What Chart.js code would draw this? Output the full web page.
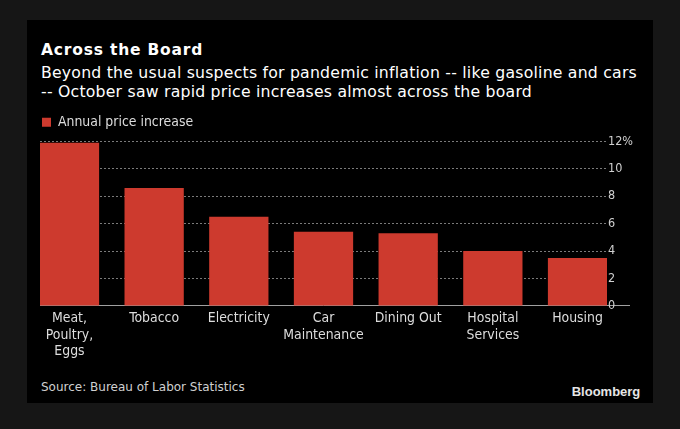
<!DOCTYPE html>
<html><head><meta charset="utf-8">
<script src="https://cdn.jsdelivr.net/npm/chart.js@4.4.0/dist/chart.umd.min.js"></script>
<style>
html,body{margin:0;padding:0;background:#161616;width:680px;height:429px;overflow:hidden;}
#panel{position:absolute;left:27px;top:20px;width:626px;height:383px;background:#000;}
.t{position:absolute;white-space:nowrap;margin:0;}
#title{left:14px;top:21px;font:bold 15.5px 'DejaVu Sans';letter-spacing:0.8px;line-height:normal;color:#fff;}
#sub{left:14px;top:42.5px;font:15.7px 'DejaVu Sans';letter-spacing:0.22px;line-height:19.5px;color:#fff;}
#source{left:14px;top:359.6px;font:12px 'DejaVu Sans';line-height:normal;color:#d0d0d0;}
#logo{left:544.7px;top:364px;font:bold 13px 'Liberation Sans',Arial,sans-serif;line-height:normal;color:#e6e6e6;}
#wrap{position:absolute;left:0;top:85px;width:626px;height:270px;}
</style></head>
<body>
<div id="panel">
  <div class="t" id="title">Across the Board</div>
  <div class="t" id="sub">Beyond the usual suspects for pandemic inflation -- like gasoline and cars<br>-- October saw rapid price increases almost across the board</div>
  <div id="wrap"><canvas id="c"></canvas></div>
  <div class="t" id="source">Source: Bureau of Labor Statistics</div>
  <div class="t" id="logo">Bloomberg</div>
</div>
<script>
const categories = [['Meat,','Poultry,','Eggs'], 'Tobacco', 'Electricity', ['Car','Maintenance'], 'Dining Out', ['Hospital','Services'], 'Housing'];
const increases = [11.9, 8.6, 6.5, 5.4, 5.3, 4.0, 3.5];
const seriesName = 'Annual price increase';
const yTickLabels = {0:'0', 2:'2', 4:'4', 6:'6', 8:'8', 10:'10', 12:'12%'};

const FONT = "'DejaVu Sans Condensed','DejaVu Sans'";
Chart.defaults.font.family = FONT;

const legendSpacer = {
  id: 'legendSpacer',
  beforeInit(chart) {
    const origFit = chart.legend.fit;
    chart.legend.fit = function() { origFit.call(this); this.height += 2.2; };
  }
};

new Chart(document.getElementById('c'), {
  type: 'bar',
  data: {
    datasets: [{
      label: seriesName,
      data: increases.map((v, i) => ({x: i, y: v})),
      backgroundColor: '#cd3a2e',
      borderWidth: 0,
      barPercentage: 0.70,
      categoryPercentage: 1.0
    }]
  },
  options: {
    responsive: true,
    maintainAspectRatio: false,
    animation: false,
    layout: {padding: {left: 13, right: 0, top: 8.2, bottom: 11}},
    plugins: {
      legend: {
        display: true, position: 'top', align: 'start',
        labels: {color: '#dddddd', boxWidth: 9, boxHeight: 9, padding: 2, font: {size: 13.9}}
      },
      tooltip: {enabled: false}
    },
    scales: {
      x: {
        type: 'linear',
        offset: false,
        min: -0.348, max: categories.length - 1 + 0.348,
        grid: {display: false, drawTicks: false, offset: false},
        border: {display: false},
        ticks: {
          stepSize: 1, includeBounds: false, autoSkip: false, maxRotation: 0,
          color: '#dddddd', padding: 4, font: {size: 13.9, lineHeight: 1.2},
          callback: (v) => Number.isInteger(v) && categories[v] !== undefined ? categories[v] : ''
        }
      },
      y: {
        position: 'right',
        min: 0, max: 12,
        afterFit: (scale) => { scale.width = 46; },
        grid: {
          color: (c) => c.tick && c.tick.value === 0 ? '#a0a0a0' : '#7a7a7a',
          lineWidth: 1,
          drawTicks: true, tickLength: 23,
          tickColor: (c) => c.tick && c.tick.value === 0 ? '#a0a0a0' : 'rgba(0,0,0,0)'
        },
        border: {display: false, dash: (c) => c.tick && c.tick.value === 0 ? [] : [2, 2]},
        ticks: {
          stepSize: 2, color: '#d0d0d0', padding: -22, font: {size: 12.5},
          callback: (v) => yTickLabels[v] !== undefined ? yTickLabels[v] : ''
        }
      }
    }
  },
  plugins: [legendSpacer]
});
</script>
</body></html>
